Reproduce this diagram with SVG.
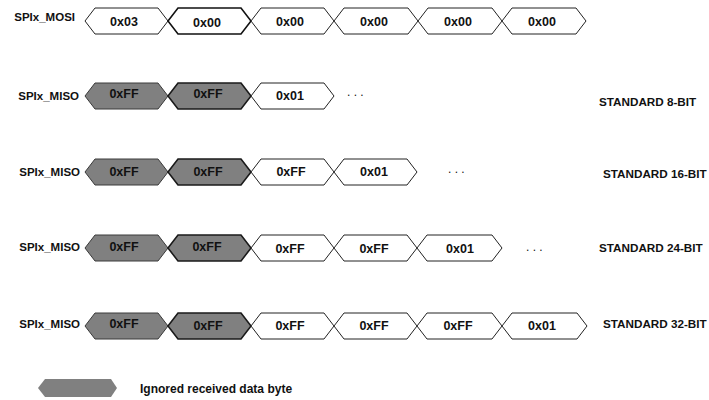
<svg xmlns="http://www.w3.org/2000/svg" width="709" height="400" viewBox="0 0 709 400">
<style>
text{font-family:"Liberation Sans",Arial,sans-serif;font-weight:bold;fill:#111}
.lbl{font-size:11.5px;text-anchor:end}
.std{font-size:11.7px}
.hx{font-size:12.5px;text-anchor:middle}
.dots{font-size:12px;font-weight:normal}
.w{fill:#fff;stroke:#222;stroke-width:1}
.wb{fill:#fff;stroke:#111;stroke-width:1.6}
.g{fill:#808080;stroke:#3a3a3a;stroke-width:1}
.gb{fill:#808080;stroke:#1a1a1a;stroke-width:1.6}
.leg{fill:#808080;stroke:none}
.lt{font-size:12px}
</style>
<rect width="709" height="400" fill="#fff"/>

<g id="mosi">
<text class="lbl" x="75" y="21">SPIx_MOSI</text>
<polygon class="w" points="85,21 95,8 158,8 168,21 158,34 95,34"/>
<text class="hx" x="124" y="26">0x03</text>
<polygon class="wb" points="168,21 178,8 241,8 251,21 241,34 178,34"/>
<text class="hx" x="207" y="27">0x00</text>
<polygon class="w" points="251,21 261,8 324,8 334,21 324,34 261,34"/>
<text class="hx" x="290" y="26">0x00</text>
<polygon class="w" points="334,21 344,8 408,8 418,21 408,34 344,34"/>
<text class="hx" x="374" y="26">0x00</text>
<polygon class="w" points="418,21 428,8 492,8 502,21 492,34 428,34"/>
<text class="hx" x="458" y="26">0x00</text>
<polygon class="w" points="502,21 512,8 576,8 586,21 576,34 512,34"/>
<text class="hx" x="542" y="26">0x00</text>
</g>

<g id="miso8">
<text class="lbl" x="79" y="100">SPIx_MISO</text>
<polygon class="g" points="85,96 95,83 158,83 168,96 158,109 95,109"/>
<text class="hx" x="124" y="98">0xFF</text>
<polygon class="gb" points="168,96 178,83 241,83 251,96 241,109 178,109"/>
<text class="hx" x="208" y="98">0xFF</text>
<polygon class="w" points="251,96 261,83 324,83 334,96 324,109 261,109"/>
<text class="hx" x="290" y="100">0x01</text>
<text class="dots" x="347" y="96">. . .</text>
<text class="std" x="599" y="106">STANDARD 8-BIT</text>
</g>

<g id="miso16">
<text class="lbl" x="80" y="176">SPIx_MISO</text>
<polygon class="g" points="85,172 95,159 158,159 168,172 158,185 95,185"/>
<text class="hx" x="124" y="176">0xFF</text>
<polygon class="gb" points="168,172 178,159 241,159 251,172 241,185 178,185"/>
<text class="hx" x="208" y="176">0xFF</text>
<polygon class="w" points="251,172 261,159 324,159 334,172 324,185 261,185"/>
<text class="hx" x="291" y="176">0xFF</text>
<polygon class="w" points="334,172 344,159 407,159 417,172 407,185 344,185"/>
<text class="hx" x="374" y="176">0x01</text>
<text class="dots" x="448" y="173">. . .</text>
<text class="std" x="603" y="178">STANDARD 16-BIT</text>
</g>

<g id="miso24">
<text class="lbl" x="80" y="251">SPIx_MISO</text>
<polygon class="g" points="85,248 95,235 158,235 168,248 158,261 95,261"/>
<text class="hx" x="124" y="251">0xFF</text>
<polygon class="gb" points="168,248 178,235 241,235 251,248 241,261 178,261"/>
<text class="hx" x="207" y="251">0xFF</text>
<polygon class="w" points="251,248 261,235 324,235 334,248 324,261 261,261"/>
<text class="hx" x="290" y="253">0xFF</text>
<polygon class="w" points="334,248 344,235 407,235 417,248 407,261 344,261"/>
<text class="hx" x="374" y="253">0xFF</text>
<polygon class="w" points="417,248 427,235 492,235 502,248 492,261 427,261"/>
<text class="hx" x="460" y="253">0x01</text>
<text class="dots" x="526" y="251">. . .</text>
<text class="std" x="599" y="252">STANDARD 24-BIT</text>
</g>

<g id="miso32">
<text class="lbl" x="80" y="328">SPIx_MISO</text>
<polygon class="g" points="85,326 95,313 158,313 168,326 158,339 95,339"/>
<text class="hx" x="124" y="328">0xFF</text>
<polygon class="gb" points="168,326 178,313 241,313 251,326 241,339 178,339"/>
<text class="hx" x="208" y="330">0xFF</text>
<polygon class="w" points="251,326 261,313 324,313 334,326 324,339 261,339"/>
<text class="hx" x="290" y="330">0xFF</text>
<polygon class="w" points="334,326 344,313 407,313 417,326 407,339 344,339"/>
<text class="hx" x="374" y="330">0xFF</text>
<polygon class="w" points="417,326 427,313 492,313 502,326 492,339 427,339"/>
<text class="hx" x="458" y="330">0xFF</text>
<polygon class="w" points="502,326 512,313 577,313 587,326 577,339 512,339"/>
<text class="hx" x="542" y="330">0x01</text>
<text class="std" x="603" y="328">STANDARD 32-BIT</text>
</g>

<g id="legend">
<polygon class="leg" points="38,388 45,379 111,379 117,388 111,397 45,397"/>
<text class="lt" x="140" y="393">Ignored received data byte</text>
</g>
</svg>
